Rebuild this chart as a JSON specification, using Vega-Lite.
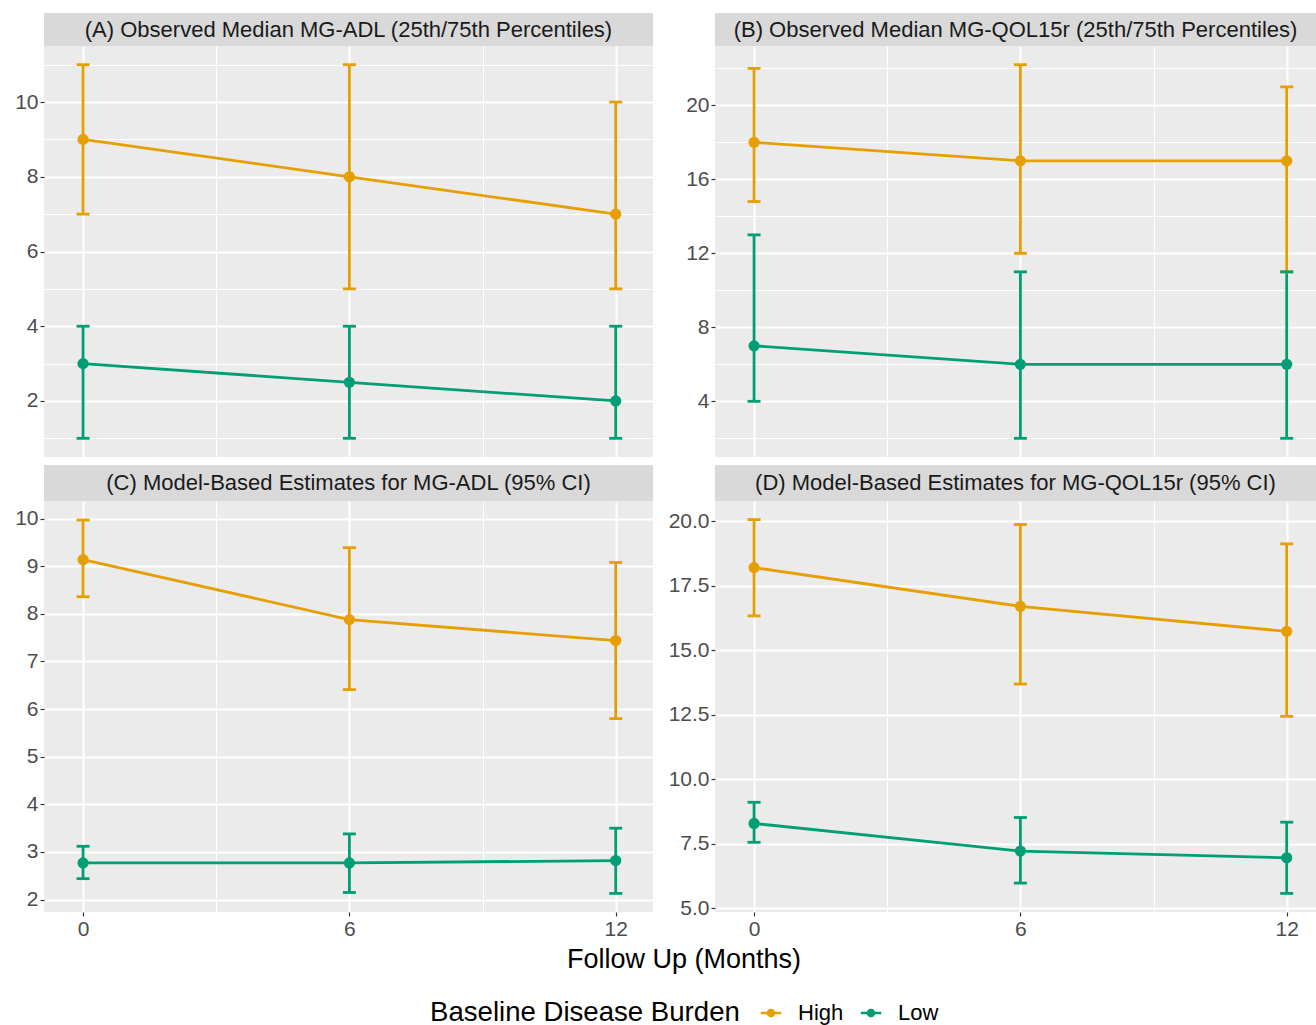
{
  "$schema": "https://vega.github.io/schema/vega-lite/v6.json",
  "padding": {"left": 4, "top": 13, "right": 0, "bottom": 0},
  "datasets": {
    "d": [
      {"panel": "A", "month": 0, "group": "High", "est": 9, "lo": 7, "hi": 11},
      {"panel": "A", "month": 6, "group": "High", "est": 8, "lo": 5, "hi": 11},
      {"panel": "A", "month": 12, "group": "High", "est": 7, "lo": 5, "hi": 10},
      {"panel": "A", "month": 0, "group": "Low", "est": 3, "lo": 1, "hi": 4},
      {"panel": "A", "month": 6, "group": "Low", "est": 2.5, "lo": 1, "hi": 4},
      {"panel": "A", "month": 12, "group": "Low", "est": 2, "lo": 1, "hi": 4},
      {"panel": "B", "month": 0, "group": "High", "est": 18, "lo": 14.8, "hi": 22},
      {"panel": "B", "month": 6, "group": "High", "est": 17, "lo": 12, "hi": 22.2},
      {"panel": "B", "month": 12, "group": "High", "est": 17, "lo": 11, "hi": 21},
      {"panel": "B", "month": 0, "group": "Low", "est": 7, "lo": 4, "hi": 13},
      {"panel": "B", "month": 6, "group": "Low", "est": 6, "lo": 2, "hi": 11},
      {"panel": "B", "month": 12, "group": "Low", "est": 6, "lo": 2, "hi": 11},
      {"panel": "C", "month": 0, "group": "High", "est": 9.14, "lo": 8.36, "hi": 9.97},
      {"panel": "C", "month": 6, "group": "High", "est": 7.88, "lo": 6.41, "hi": 9.39},
      {"panel": "C", "month": 12, "group": "High", "est": 7.44, "lo": 5.8, "hi": 9.08},
      {"panel": "C", "month": 0, "group": "Low", "est": 2.77, "lo": 2.44, "hi": 3.12},
      {"panel": "C", "month": 6, "group": "Low", "est": 2.77, "lo": 2.15, "hi": 3.38},
      {"panel": "C", "month": 12, "group": "Low", "est": 2.82, "lo": 2.13, "hi": 3.5},
      {"panel": "D", "month": 0, "group": "High", "est": 18.2, "lo": 16.33, "hi": 20.06},
      {"panel": "D", "month": 6, "group": "High", "est": 16.7, "lo": 13.69, "hi": 19.87},
      {"panel": "D", "month": 12, "group": "High", "est": 15.73, "lo": 12.44, "hi": 19.12},
      {"panel": "D", "month": 0, "group": "Low", "est": 8.29, "lo": 7.56, "hi": 9.11},
      {"panel": "D", "month": 6, "group": "Low", "est": 7.22, "lo": 5.98, "hi": 8.52},
      {"panel": "D", "month": 12, "group": "Low", "est": 6.96, "lo": 5.58, "hi": 8.34}
    ],
    "strips": [
      {"panel": "A", "title": "(A) Observed Median MG-ADL (25th/75th Percentiles)"},
      {"panel": "B", "title": "(B) Observed Median MG-QOL15r (25th/75th Percentiles)"},
      {"panel": "C", "title": "(C) Model-Based Estimates for MG-ADL (95% CI)"},
      {"panel": "D", "title": "(D) Model-Based Estimates for MG-QOL15r (95% CI)"}
    ]
  },
  "vconcat": [
    {
      "concat": [
        {
          "spacing": 0,
          "vconcat": [
            {
              "width": 609, "height": 33,
              "view": {"fill": "#D9D9D9", "stroke": null},
              "data": {"name": "strips"},
              "transform": [{"filter": "datum.panel === 'A'"}],
              "mark": {"type": "text", "fontSize": 22, "color": "#1A1A1A"},
              "encoding": {"text": {"field": "title", "type": "nominal"}}
            },
            {
              "width": 609, "height": 411,
              "view": {"fill": "#EBEBEB", "stroke": null},
              "data": {"name": "d"},
              "transform": [{"filter": "datum.panel === 'A'"}],
              "encoding": {
                "x": {"field": "month", "type": "quantitative",
                  "scale": {"domain": [-0.88, 12.84], "nice": false, "zero": false},
                  "axis": {"title": null, "values": [0, 3, 6, 9, 12], "labels": false, "ticks": false,
                    "gridWidth": {"condition": {"test": "datum.value % 6 === 0", "value": 2}, "value": 1}}},
                "color": {"field": "group", "type": "nominal",
                  "scale": {"domain": ["High", "Low"], "range": ["#E69F00", "#009E73"]},
                  "legend": {"title": "Baseline Disease Burden", "orient": "none", "legendX": 386, "legendY": 989,
                    "direction": "horizontal", "titleOrient": "left", "titleFontSize": 27.6, "titleFontWeight": "normal",
                    "titleColor": "#000000", "titleLimit": 0, "labelLimit": 0, "labelFontSize": 22, "labelColor": "#000000",
                    "symbolType": "M-1,-0.13H1V0.13H-1Z M0.42,0A0.42,0.42,0,1,1,-0.42,0A0.42,0.42,0,1,1,0.42,0Z",
                    "symbolSize": 420, "symbolStrokeWidth": 0, "symbolOpacity": 1, "labelOffset": 16, "columnPadding": 16, "titlePadding": 20}}
              },
              "layer": [
                {"mark": {"type": "line", "strokeWidth": 2.8},
                  "encoding": {"y": {"field": "est", "type": "quantitative",
                    "scale": {"domain": [0.5, 11.5], "nice": false, "zero": false},
                    "axis": {"title": null, "values": [1, 2, 3, 4, 5, 6, 7, 8, 9, 10, 11],
                      "labelExpr": "datum.value % 2 === 0 ? datum.label : ''",
                      "tickOpacity": {"condition": {"test": "datum.value % 2 === 0", "value": 1}, "value": 0},
                      "gridWidth": {"condition": {"test": "datum.value % 2 === 0", "value": 2}, "value": 1}}}}},
                {"mark": {"type": "point", "filled": true, "size": 125, "opacity": 1},
                  "encoding": {"y": {"field": "est", "type": "quantitative"}}},
                {"mark": {"type": "rule", "strokeWidth": 2.8},
                  "encoding": {"y": {"field": "lo", "type": "quantitative"}, "y2": {"field": "hi"}}},
                {"mark": {"type": "tick", "orient": "horizontal", "size": 13, "thickness": 2.8, "opacity": 1},
                  "encoding": {"y": {"field": "lo", "type": "quantitative"}}},
                {"mark": {"type": "tick", "orient": "horizontal", "size": 13, "thickness": 2.8, "opacity": 1},
                  "encoding": {"y": {"field": "hi", "type": "quantitative"}}}
              ]
            }
          ]
        },
        {
          "spacing": 0,
          "vconcat": [
            {
              "width": 601, "height": 33,
              "view": {"fill": "#D9D9D9", "stroke": null},
              "data": {"name": "strips"},
              "transform": [{"filter": "datum.panel === 'B'"}],
              "mark": {"type": "text", "fontSize": 22, "color": "#1A1A1A"},
              "encoding": {"text": {"field": "title", "type": "nominal"}}
            },
            {
              "width": 601, "height": 411,
              "view": {"fill": "#EBEBEB", "stroke": null},
              "data": {"name": "d"},
              "transform": [{"filter": "datum.panel === 'B'"}],
              "encoding": {
                "x": {"field": "month", "type": "quantitative",
                  "scale": {"domain": [-0.88, 12.66], "nice": false, "zero": false},
                  "axis": {"title": null, "values": [0, 3, 6, 9, 12], "labels": false, "ticks": false,
                    "gridWidth": {"condition": {"test": "datum.value % 6 === 0", "value": 2}, "value": 1}}},
                "color": {"field": "group", "type": "nominal",
                  "scale": {"domain": ["High", "Low"], "range": ["#E69F00", "#009E73"]}}
              },
              "layer": [
                {"mark": {"type": "line", "strokeWidth": 2.8},
                  "encoding": {"y": {"field": "est", "type": "quantitative",
                    "scale": {"domain": [0.99, 23.21], "nice": false, "zero": false},
                    "axis": {"title": null, "values": [2, 4, 6, 8, 10, 12, 14, 16, 18, 20, 22],
                      "labelExpr": "datum.value % 4 === 0 ? datum.label : ''",
                      "tickOpacity": {"condition": {"test": "datum.value % 4 === 0", "value": 1}, "value": 0},
                      "gridWidth": {"condition": {"test": "datum.value % 4 === 0", "value": 2}, "value": 1}}}}},
                {"mark": {"type": "point", "filled": true, "size": 125, "opacity": 1},
                  "encoding": {"y": {"field": "est", "type": "quantitative"}}},
                {"mark": {"type": "rule", "strokeWidth": 2.8},
                  "encoding": {"y": {"field": "lo", "type": "quantitative"}, "y2": {"field": "hi"}}},
                {"mark": {"type": "tick", "orient": "horizontal", "size": 13, "thickness": 2.8, "opacity": 1},
                  "encoding": {"y": {"field": "lo", "type": "quantitative"}}},
                {"mark": {"type": "tick", "orient": "horizontal", "size": 13, "thickness": 2.8, "opacity": 1},
                  "encoding": {"y": {"field": "hi", "type": "quantitative"}}}
              ]
            }
          ]
        },
        {
          "spacing": 0,
          "vconcat": [
            {
              "width": 609, "height": 36,
              "view": {"fill": "#D9D9D9", "stroke": null},
              "data": {"name": "strips"},
              "transform": [{"filter": "datum.panel === 'C'"}],
              "mark": {"type": "text", "fontSize": 22, "color": "#1A1A1A"},
              "encoding": {"text": {"field": "title", "type": "nominal"}}
            },
            {
              "width": 609, "height": 411,
              "view": {"fill": "#EBEBEB", "stroke": null},
              "data": {"name": "d"},
              "transform": [{"filter": "datum.panel === 'C'"}],
              "encoding": {
                "x": {"field": "month", "type": "quantitative",
                  "scale": {"domain": [-0.88, 12.84], "nice": false, "zero": false},
                  "axis": {"title": null, "values": [0, 3, 6, 9, 12],
                    "labelExpr": "datum.value % 6 === 0 ? datum.label : ''",
                    "tickOpacity": {"condition": {"test": "datum.value % 6 === 0", "value": 1}, "value": 0},
                    "gridWidth": {"condition": {"test": "datum.value % 6 === 0", "value": 2}, "value": 1}}},
                "color": {"field": "group", "type": "nominal",
                  "scale": {"domain": ["High", "Low"], "range": ["#E69F00", "#009E73"]}}
              },
              "layer": [
                {"mark": {"type": "line", "strokeWidth": 2.8},
                  "encoding": {"y": {"field": "est", "type": "quantitative",
                    "scale": {"domain": [1.74, 10.37], "nice": false, "zero": false},
                    "axis": {"title": null, "values": [2, 2.5, 3, 3.5, 4, 4.5, 5, 5.5, 6, 6.5, 7, 7.5, 8, 8.5, 9, 9.5, 10],
                      "labelExpr": "datum.value % 1 === 0 ? datum.label : ''",
                      "tickOpacity": {"condition": {"test": "datum.value % 1 === 0", "value": 1}, "value": 0},
                      "gridWidth": {"condition": {"test": "datum.value % 1 === 0", "value": 2}, "value": 1}}}}},
                {"mark": {"type": "point", "filled": true, "size": 125, "opacity": 1},
                  "encoding": {"y": {"field": "est", "type": "quantitative"}}},
                {"mark": {"type": "rule", "strokeWidth": 2.8},
                  "encoding": {"y": {"field": "lo", "type": "quantitative"}, "y2": {"field": "hi"}}},
                {"mark": {"type": "tick", "orient": "horizontal", "size": 13, "thickness": 2.8, "opacity": 1},
                  "encoding": {"y": {"field": "lo", "type": "quantitative"}}},
                {"mark": {"type": "tick", "orient": "horizontal", "size": 13, "thickness": 2.8, "opacity": 1},
                  "encoding": {"y": {"field": "hi", "type": "quantitative"}}}
              ]
            }
          ]
        },
        {
          "spacing": 0,
          "vconcat": [
            {
              "width": 601, "height": 36,
              "view": {"fill": "#D9D9D9", "stroke": null},
              "data": {"name": "strips"},
              "transform": [{"filter": "datum.panel === 'D'"}],
              "mark": {"type": "text", "fontSize": 22, "color": "#1A1A1A"},
              "encoding": {"text": {"field": "title", "type": "nominal"}}
            },
            {
              "width": 601, "height": 411,
              "view": {"fill": "#EBEBEB", "stroke": null},
              "data": {"name": "d"},
              "transform": [{"filter": "datum.panel === 'D'"}],
              "encoding": {
                "x": {"field": "month", "type": "quantitative",
                  "scale": {"domain": [-0.88, 12.66], "nice": false, "zero": false},
                  "axis": {"title": null, "values": [0, 3, 6, 9, 12],
                    "labelExpr": "datum.value % 6 === 0 ? datum.label : ''",
                    "tickOpacity": {"condition": {"test": "datum.value % 6 === 0", "value": 1}, "value": 0},
                    "gridWidth": {"condition": {"test": "datum.value % 6 === 0", "value": 2}, "value": 1}}},
                "color": {"field": "group", "type": "nominal",
                  "scale": {"domain": ["High", "Low"], "range": ["#E69F00", "#009E73"]}}
              },
              "layer": [
                {"mark": {"type": "line", "strokeWidth": 2.8},
                  "encoding": {"y": {"field": "est", "type": "quantitative",
                    "scale": {"domain": [4.86, 20.78], "nice": false, "zero": false},
                    "axis": {"title": null, "format": ".1f", "values": [5, 6.25, 7.5, 8.75, 10, 11.25, 12.5, 13.75, 15, 16.25, 17.5, 18.75, 20],
                      "labelExpr": "datum.value % 2.5 === 0 ? datum.label : ''",
                      "tickOpacity": {"condition": {"test": "datum.value % 2.5 === 0", "value": 1}, "value": 0},
                      "gridWidth": {"condition": {"test": "datum.value % 2.5 === 0", "value": 2}, "value": 1}}}}},
                {"mark": {"type": "point", "filled": true, "size": 125, "opacity": 1},
                  "encoding": {"y": {"field": "est", "type": "quantitative"}}},
                {"mark": {"type": "rule", "strokeWidth": 2.8},
                  "encoding": {"y": {"field": "lo", "type": "quantitative"}, "y2": {"field": "hi"}}},
                {"mark": {"type": "tick", "orient": "horizontal", "size": 13, "thickness": 2.8, "opacity": 1},
                  "encoding": {"y": {"field": "lo", "type": "quantitative"}}},
                {"mark": {"type": "tick", "orient": "horizontal", "size": 13, "thickness": 2.8, "opacity": 1},
                  "encoding": {"y": {"field": "hi", "type": "quantitative"}}}
              ]
            }
          ]
        }
      ],
      "columns": 2,
      "spacing": {"row": 8, "column": 15}
    },
    {
      "width": 1280, "height": 31,
      "view": {"stroke": null},
      "data": {"values": [{"t": "Follow Up (Months)"}]},
      "mark": {"type": "text", "fontSize": 27, "color": "#000000"},
      "encoding": {"text": {"field": "t", "type": "nominal"}}
    }
  ],
  "spacing": 5,
  "config": {
    "font": "Liberation Sans",
    "view": {"stroke": null},
    "axis": {"domain": false, "grid": true, "gridColor": "#FFFFFF", "tickColor": "#333333", "tickSize": 4, "tickWidth": 1.2,
      "labelColor": "#4D4D4D", "labelFontSize": 21, "labelPadding": 2, "labelOverlap": false, "labelFlush": false, "labelBound": false},
    "axisY": {"minExtent": 40, "maxExtent": 40}
  }
}
